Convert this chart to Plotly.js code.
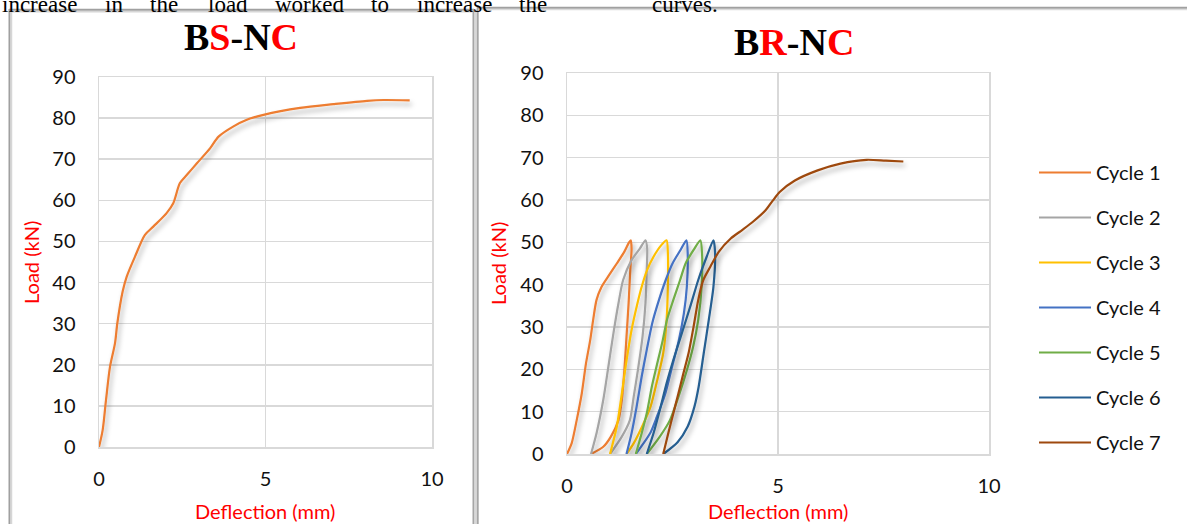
<!DOCTYPE html>
<html>
<head>
<meta charset="utf-8">
<script src="https://cdn.plot.ly/plotly-3.0.1.min.js"></script>
<style>
  html, body { margin: 0; padding: 0; background: #fff; }
  #chart { width: 1187px; height: 524px; }
</style>
</head>
<body>
<svg width="0" height="0" style="position:absolute">
  <defs>
    <filter id="lineShadow" x="-50%" y="-50%" width="200%" height="200%">
      <feDropShadow dx="2" dy="4" stdDeviation="2.6" flood-color="#000" flood-opacity="0.33"/>
    </filter>
  </defs>
</svg>
<div id="chart"></div>
<script>
// ---- BS-NC: monotonic load test ----
const bsDeflection = [0, 0.11, 0.21, 0.33, 0.48, 0.55, 0.71, 0.83, 1.08, 1.38, 1.63, 2.03, 2.23, 2.43, 2.64, 2.94, 3.34, 3.59, 4.04, 4.44, 4.94, 6.04, 7.04, 8.05, 8.55, 9.33];
const bsLoad       = [0, 4.1, 11.4, 19.5, 25.2, 30.1, 37.8, 41.4, 46.3, 51.6, 53.6, 56.9, 59.3, 64.2, 66.2, 69.0, 72.7, 75.5, 78.0, 79.6, 80.8, 82.5, 83.4, 84.2, 84.4, 84.3];

// ---- BR-NC: cyclic load test ----
const cycleNames  = ['Cycle 1', 'Cycle 2', 'Cycle 3', 'Cycle 4', 'Cycle 5', 'Cycle 6', 'Cycle 7'];
const cycleColors = ['#ED7D31', '#A5A5A5', '#FFC000', '#4472C4', '#70AD47', '#255E91', '#9E480E'];

const c1Deflection = [0, 0.11, 0.23, 0.35, 0.45, 0.55, 0.62, 0.70, 0.82, 1.00, 1.18, 1.36, 1.47, 1.51, 1.53, 1.50, 1.46, 1.41, 1.36, 1.30, 1.22, 1.04, 0.86, 0.57];
const c1Load       = [0, 2.5, 8, 14.3, 21.4, 26.9, 31.7, 36.4, 39.5, 42.3, 45, 47.8, 50, 50.5, 48.5, 43.5, 35.6, 27.7, 19.8, 12.8, 8, 4.1, 1.7, 0];

const c2Deflection = [0.57, 0.70, 0.86, 0.98, 1.10, 1.22, 1.33, 1.53, 1.73, 1.86, 1.90, 1.89, 1.86, 1.79, 1.68, 1.58, 1.49, 1.30, 1.02];
const c2Load       = [0, 4.9, 12.8, 20.6, 28.5, 35.6, 41.1, 45.8, 48.6, 50.5, 48.5, 43.5, 35.6, 27.7, 19.8, 13.5, 8, 4.1, 0];

const c3Deflection = [1.02, 1.18, 1.30, 1.40, 1.53, 1.67, 1.77, 1.90, 2.05, 2.24, 2.36, 2.39, 2.39, 2.36, 2.28, 2.14, 1.98, 1.78, 1.58, 1.41];
const c3Load       = [0, 6.5, 14.3, 21.4, 29.3, 35.6, 39.5, 43.5, 46.6, 49.4, 50.5, 47.5, 39.5, 31.7, 23.8, 17.5, 11.2, 6.5, 2.5, 0];

const c4Deflection = [1.41, 1.53, 1.65, 1.77, 1.89, 2.02, 2.18, 2.34, 2.50, 2.69, 2.83, 2.86, 2.84, 2.77, 2.65, 2.49, 2.33, 2.13, 1.97, 1.63];
const c4Load       = [0, 4.9, 11.2, 18.3, 24.6, 30.9, 36.4, 41.1, 45, 48.2, 50.5, 47.4, 39.5, 33.2, 26.9, 20.6, 14.3, 8.8, 4.9, 0];

const c5Deflection = [1.63, 1.77, 1.89, 2.01, 2.12, 2.27, 2.37, 2.52, 2.68, 2.81, 3.00, 3.16, 3.20, 3.19, 3.11, 2.99, 2.84, 2.64, 2.44, 2.20, 1.89];
const c5Load       = [0, 4.9, 9.6, 15.9, 20.6, 26.9, 31.7, 36.4, 41.1, 45, 48.2, 50.5, 47.4, 39.5, 31.7, 25.4, 19.8, 13.5, 8, 4.1, 0];

const c6Deflection = [1.89, 2.05, 2.20, 2.36, 2.52, 2.72, 2.92, 3.11, 3.31, 3.47, 3.51, 3.47, 3.36, 3.24, 3.12, 3.02, 2.86, 2.62, 2.28];
const c6Load       = [0, 4.9, 10.4, 16.7, 22.2, 28.5, 34.8, 41.1, 46.6, 50.5, 47.4, 39.5, 31.7, 23.8, 15.9, 11.2, 6.5, 2.8, 0];

const c7Deflection = [2.28, 2.40, 2.52, 2.64, 2.76, 2.88, 3.00, 3.11, 3.23, 3.40, 3.60, 3.88, 4.15, 4.40, 4.70, 4.88, 5.04, 5.40, 5.94, 6.48, 7.10, 7.55, 7.97];
const c7Load       = [0, 4.9, 9.6, 14.3, 19.1, 23.8, 30.1, 36.4, 41.1, 44.3, 47.8, 50.9, 52.9, 54.8, 57.5, 59.9, 61.9, 64.6, 67, 68.6, 69.5, 69.3, 69.1];

const cycleDeflections = [c1Deflection, c2Deflection, c3Deflection, c4Deflection, c5Deflection, c6Deflection, c7Deflection];
const cycleLoads       = [c1Load, c2Load, c3Load, c4Load, c5Load, c6Load, c7Load];

const xTicks = [0, 5, 10];
const yTicks = [0, 10, 20, 30, 40, 50, 60, 70, 80, 90];

// ---- page geometry helpers (pixels -> paper fractions) ----
const W = 1187, H = 524;
const px = x => x / W;
const py = y => 1 - y / H;

const tickFont  = { family: 'Lato, "Noto Sans", sans-serif', size: 20, color: '#111' };
const titleFont = { family: 'Lato, "Noto Sans", sans-serif', size: 20, color: '#FF0000' };
const gridColor = '#D9D9D9';

function axisX(domain, anchor) {
  return {
    domain, anchor, range: [0, 10], tickvals: xTicks, ticktext: xTicks.map(String),
    showgrid: true, gridcolor: gridColor, gridwidth: 1.5,
    zeroline: false, showline: true, mirror: true, linecolor: gridColor, linewidth: 1.5,
    ticks: '', tickfont: tickFont, ticklabelstandoff: 13, fixedrange: true
  };
}
function axisY(domain, anchor) {
  return {
    domain, anchor, range: [0, 90], tickvals: yTicks, ticktext: yTicks.map(String),
    showgrid: true, gridcolor: gridColor, gridwidth: 1.5,
    zeroline: false, showline: true, mirror: true, linecolor: gridColor, linewidth: 1.5,
    ticks: '', tickfont: tickFont, ticklabelstandoff: 18, fixedrange: true
  };
}

const traces = [{
  type: 'scatter', mode: 'lines', name: 'BS-NC',
  x: bsDeflection, y: bsLoad, xaxis: 'x', yaxis: 'y',
  line: { color: '#ED7D31', width: 2.2, shape: 'spline', smoothing: 0.8 },
  showlegend: false, hoverinfo: 'x+y'
}];

cycleNames.forEach((name, i) => {
  traces.push({
    type: 'scatter', mode: 'lines', name,
    x: cycleDeflections[i], y: cycleLoads[i], xaxis: 'x2', yaxis: 'y2',
    line: { color: cycleColors[i], width: 2.2, shape: 'spline', smoothing: 0.7 },
    legendgroup: 'g' + i, hoverinfo: 'name+x+y'
  });
});

// running text line of the page above the table
const pageWords = [
  ['increase', 0], ['in', 103], ['the', 148], ['load', 206], ['worked', 273],
  ['to', 369], ['increase', 415], ['the', 517], ['curves.', 650]
];

const annotations = [
  { text: 'B<span style="color:#FF0000">S</span>-N<span style="color:#FF0000">C</span>',
    xref: 'paper', yref: 'paper', x: px(241), y: py(37), xanchor: 'center', yanchor: 'middle',
    showarrow: false, font: { family: '"Liberation Serif", "Times New Roman", serif', size: 38, color: '#000', weight: 'bold' } },
  { text: 'B<span style="color:#FF0000">R</span>-N<span style="color:#FF0000">C</span>',
    xref: 'paper', yref: 'paper', x: px(794), y: py(42), xanchor: 'center', yanchor: 'middle',
    showarrow: false, font: { family: '"Liberation Serif", "Times New Roman", serif', size: 38, color: '#000', weight: 'bold' } },
  { text: 'Load (kN)', textangle: -90, xref: 'paper', yref: 'paper', x: px(31), y: py(262),
    xanchor: 'center', yanchor: 'middle', showarrow: false, font: titleFont },
  { text: 'Load (kN)', textangle: -90, xref: 'paper', yref: 'paper', x: px(498), y: py(263),
    xanchor: 'center', yanchor: 'middle', showarrow: false, font: titleFont },
  { text: 'Deflection (mm)', xref: 'paper', yref: 'paper', x: px(265), y: py(511),
    xanchor: 'center', yanchor: 'middle', showarrow: false, font: titleFont },
  { text: 'Deflection (mm)', xref: 'paper', yref: 'paper', x: px(778), y: py(511),
    xanchor: 'center', yanchor: 'middle', showarrow: false, font: titleFont }
];
pageWords.forEach(([w, x]) => annotations.push({
  text: w, xref: 'paper', yref: 'paper', x: px(x), y: py(5), xanchor: 'left', yanchor: 'middle',
  showarrow: false, font: { family: '"Liberation Serif", "Times New Roman", serif', size: 23, color: '#000' }
}));

// table cell borders
const line = (x0, y0, x1, y1, color, width) => ({
  type: 'line', xref: 'paper', yref: 'paper', x0: px(x0), y0: py(y0), x1: px(x1), y1: py(y1),
  line: { color, width }
});
const shapes = [
  line(9.5, 9, 9.5, 524, '#A0A0A0', 2),
  line(11.5, 11, 11.5, 524, '#D6D6D6', 1.5),
  line(9, 9.8, 474, 9.8, '#A0A0A0', 2),
  line(11, 11.8, 472, 11.8, '#D6D6D6', 1.5),
  line(473.5, 9, 473.5, 524, '#A6A6A6', 2),
  line(475.6, 9, 475.6, 524, '#D8D8D8', 2),
  line(477.7, 7, 477.7, 524, '#A6A6A6', 2),
  line(477, 7.8, 1187, 7.8, '#A0A0A0', 2),
  line(479, 9.6, 1187, 9.6, '#DADADA', 1.2)
];

const layout = {
  width: W, height: H, margin: { l: 0, r: 0, t: 0, b: 0 },
  paper_bgcolor: '#fff', plot_bgcolor: '#fff',
  xaxis: axisX([px(99), px(432)], 'y'),
  yaxis: axisY([py(447), py(77)], 'x'),
  xaxis2: axisX([px(567), px(989)], 'y2'),
  yaxis2: axisY([py(454), py(73)], 'x2'),
  showlegend: true,
  legend: {
    x: px(1034), y: py(153), xanchor: 'left', yanchor: 'top',
    bgcolor: 'rgba(0,0,0,0)', font: { family: 'Lato, "Noto Sans", sans-serif', size: 20, color: '#111' },
    tracegroupgap: 16, itemwidth: 52
  },
  annotations, shapes
};

Plotly.newPlot('chart', traces, layout, { staticPlot: true, displayModeBar: false }).then(gd => {
  // soft drop shadow under the data lines
  gd.querySelectorAll('.scatterlayer .trace path.js-line').forEach(p => p.setAttribute('filter', 'url(#lineShadow)'));
  // longer legend line samples
  gd.querySelectorAll('.legend .legendlines path').forEach(p => p.setAttribute('d', 'M5,0h52'));
});
</script>
</body>
</html>
